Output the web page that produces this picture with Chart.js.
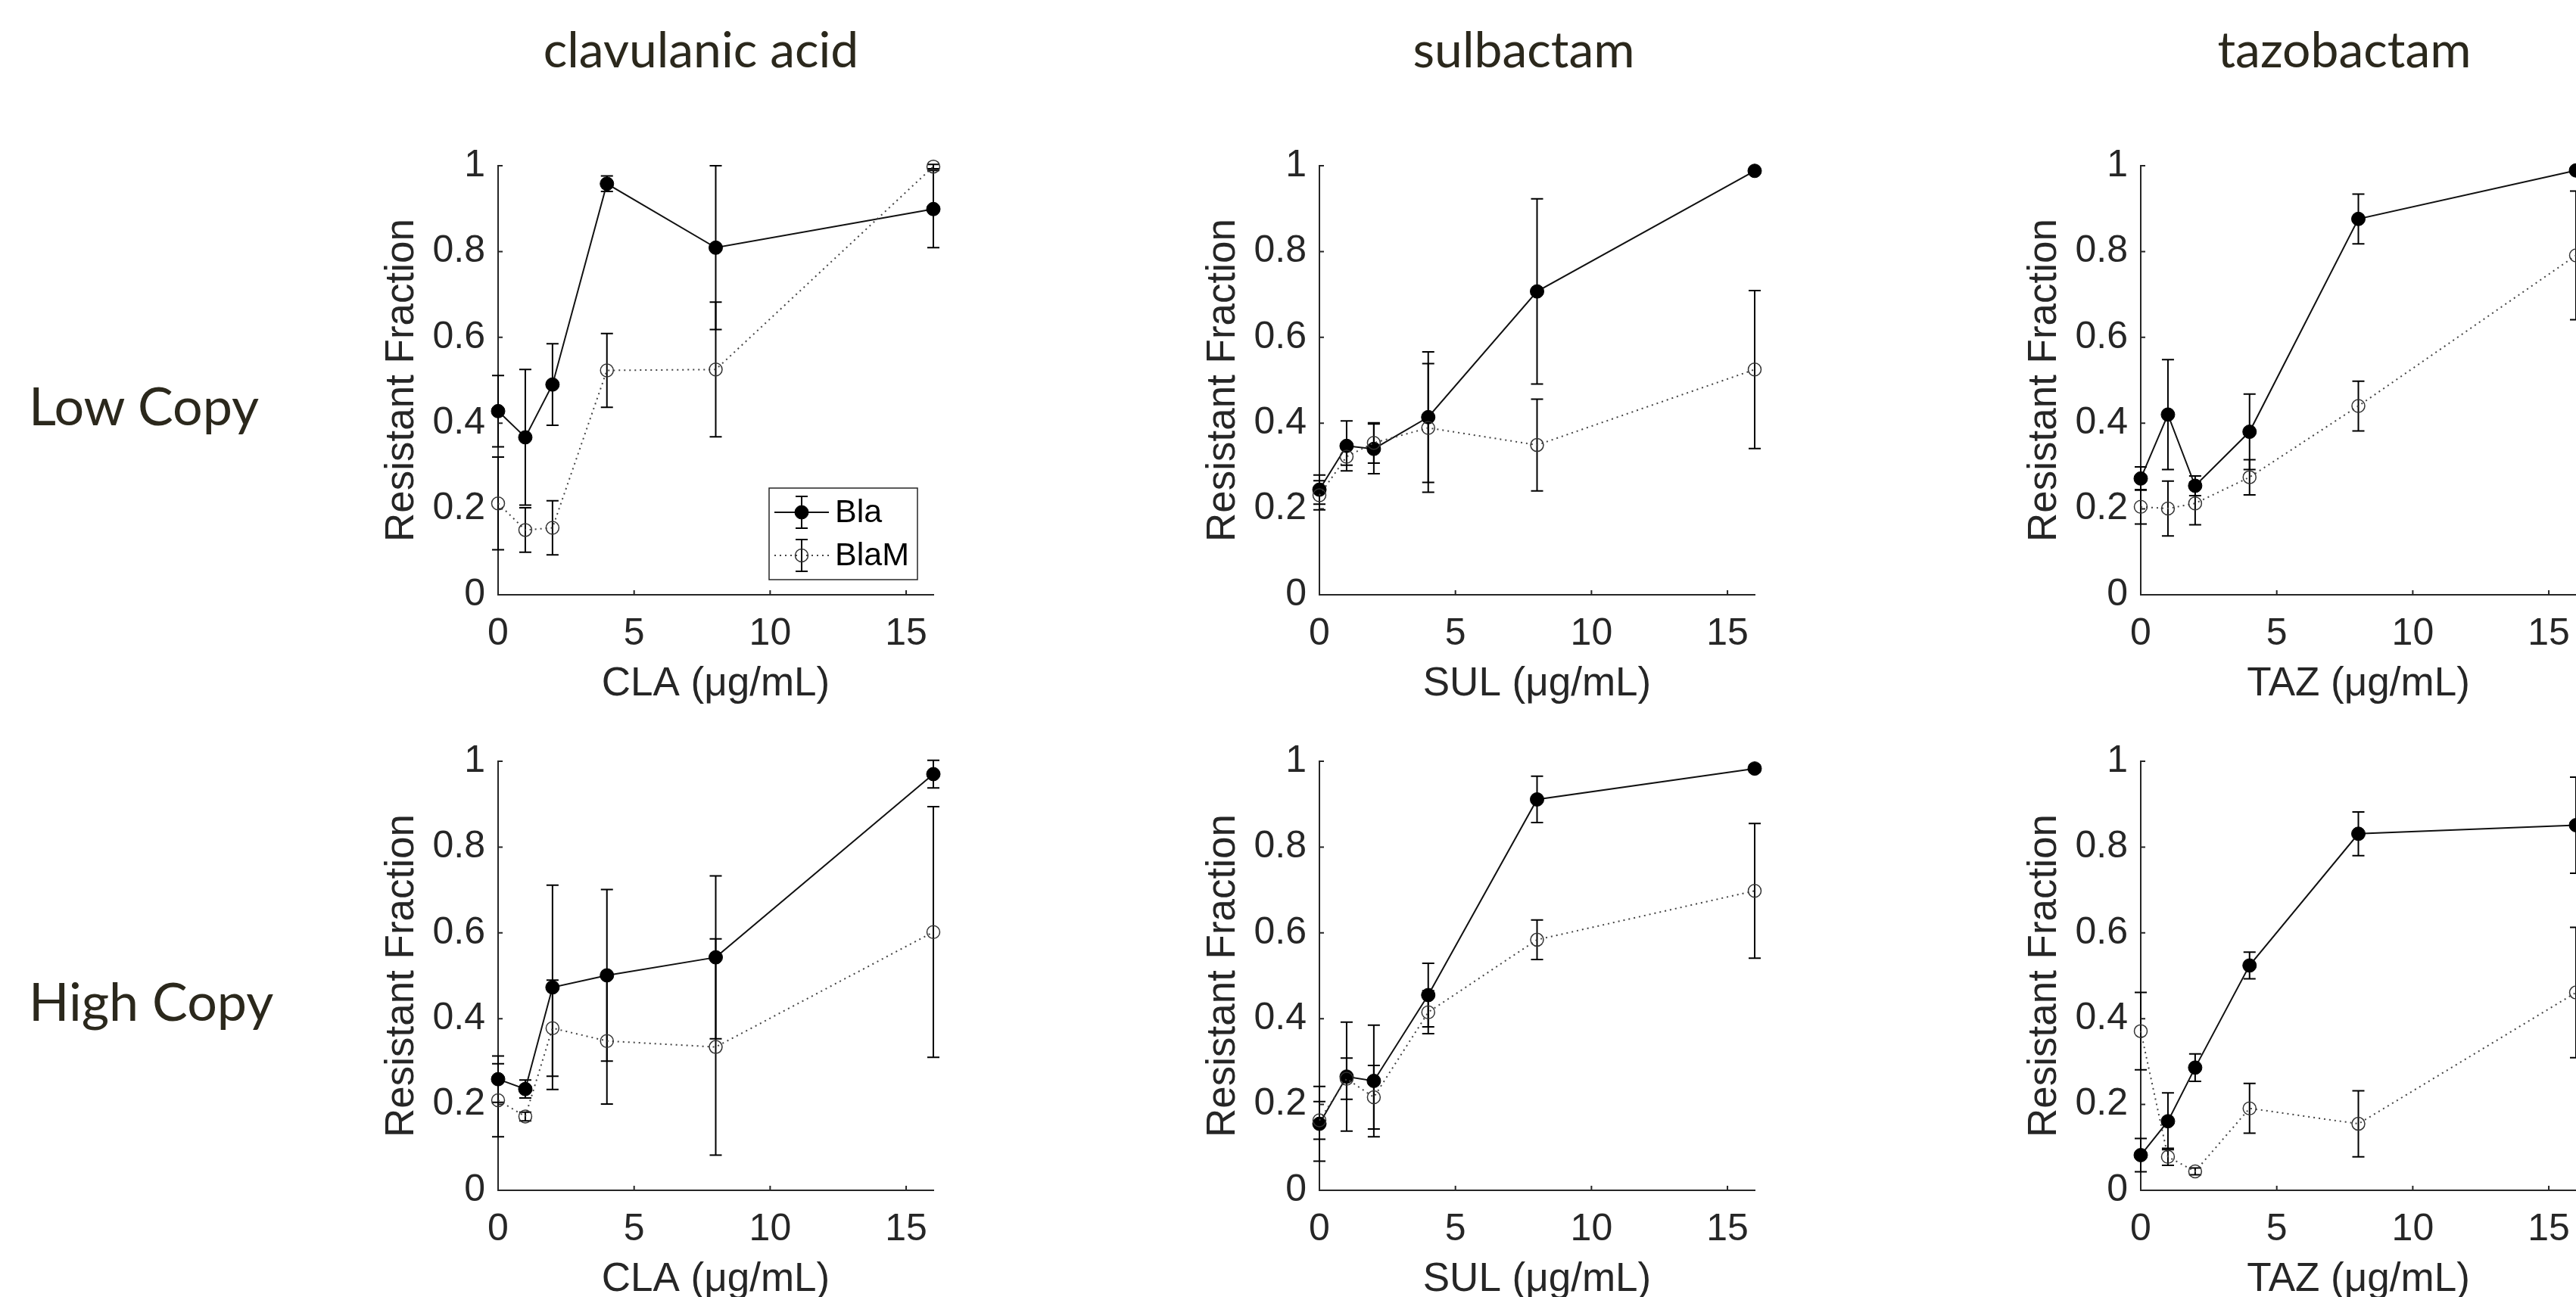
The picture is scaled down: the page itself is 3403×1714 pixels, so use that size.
<!DOCTYPE html>
<html>
<head>
<meta charset="utf-8">
<title>Resistant fraction vs inhibitor</title>
<script src="https://cdn.jsdelivr.net/npm/chart.js@4.4.1/dist/chart.umd.min.js"></script>
<style>
  html, body { margin: 0; padding: 0; background: #fff; }
  body { width: 3403px; height: 1714px; position: relative; overflow: hidden; }
  .col-title, .row-title {
    position: absolute;
    font-family: Lato, "Open Sans", sans-serif;
    color: #2b281c;
    line-height: 1;
    white-space: nowrap;
  }
  .col-title { font-size: 66px; top: 31px; transform: translateX(-50%); }
  .row-title { font-size: 70px; left: 38px; }
  canvas { position: absolute; }
</style>
</head>
<body>

<div class="col-title" style="left:926px">clavulanic acid</div>
<div class="col-title" style="left:2013px">sulbactam</div>
<div class="col-title" style="left:3097px">tazobactam</div>
<div class="row-title" style="top:500px">Low Copy</div>
<div class="row-title" style="top:1287px">High Copy</div>

<script>
// ── Data ────────────────────────────────────────────────────

const doses = [0, 1, 2, 4, 8, 16];
const xTicks = [0, 5, 10, 15];
const xTickLabels = ["0", "5", "10", "15"];
const yTicks = [0, 0.2, 0.4, 0.6, 0.8, 1];
const yTickLabels = ["0", "0.2", "0.4", "0.6", "0.8", "1"];
const seriesNames = ["Bla", "BlaM"];

// low copy
const claLowBla     = [0.428, 0.367, 0.490, 0.958, 0.809, 0.899];
const claLowBlaErr  = [0.083, 0.158, 0.095, 0.018, 0.191, 0.090];
const claLowBlaM    = [0.213, 0.151, 0.156, 0.523, 0.525, 0.998];
const claLowBlaMErr = [0.108, 0.052, 0.063, 0.086, 0.157, 0.005];

const sulLowBla     = [0.245, 0.347, 0.340, 0.414, 0.707, 0.988];
const sulLowBlaErr  = [0.034, 0.058, 0.058, 0.152, 0.216, 0.005];
const sulLowBlaM    = [0.232, 0.322, 0.354, 0.389, 0.349, 0.525];
const sulLowBlaMErr = [0.034, 0.020, 0.047, 0.150, 0.107, 0.184];

const tazLowBla     = [0.271, 0.420, 0.254, 0.380, 0.876, 0.989];
const tazLowBlaErr  = [0.027, 0.128, 0.023, 0.088, 0.058, 0.005];
const tazLowBlaM    = [0.205, 0.201, 0.213, 0.274, 0.440, 0.791];
const tazLowBlaMErr = [0.040, 0.064, 0.050, 0.041, 0.058, 0.150];

// high copy
const claHighBla     = [0.259, 0.236, 0.473, 0.501, 0.543, 0.970];
const claHighBlaErr  = [0.054, 0.021, 0.238, 0.200, 0.190, 0.032];
const claHighBlaM    = [0.210, 0.172, 0.378, 0.348, 0.334, 0.602];
const claHighBlaMErr = [0.085, 0.010, 0.112, 0.147, 0.252, 0.292];

const sulHighBla     = [0.155, 0.265, 0.255, 0.455, 0.911, 0.983];
const sulHighBlaErr  = [0.087, 0.127, 0.130, 0.074, 0.054, 0.008];
const sulHighBlaM    = [0.163, 0.260, 0.217, 0.415, 0.584, 0.698];
const sulHighBlaMErr = [0.044, 0.048, 0.074, 0.050, 0.046, 0.157];

const tazHighBla     = [0.082, 0.161, 0.286, 0.524, 0.831, 0.851];
const tazHighBlaErr  = [0.039, 0.066, 0.032, 0.031, 0.051, 0.112];
const tazHighBlaM    = [0.371, 0.078, 0.044, 0.191, 0.155, 0.461];
const tazHighBlaMErr = [0.090, 0.020, 0.008, 0.058, 0.077, 0.152];

// ── Layout ──────────────────────────────────────────────────

const AXIS_FONT = '"Liberation Sans", Arial, Helvetica, sans-serif';
const INK = "#262626";
const PLOT_W = 575;
const PLOT_H = 574;
const Y_BOX = 170;   // space left of the y axis inside each canvas
const X_BOX = 150;   // space under the x axis
const PAD_TOP = 40;
const PAD_RIGHT = 40;

const panels = [
  { left: 658,  top: 212, xLabel: "CLA (μg/mL)", bla: claLowBla,  blaErr: claLowBlaErr,  blaM: claLowBlaM,  blaMErr: claLowBlaMErr, legend: true },
  { left: 1743, top: 212, xLabel: "SUL (μg/mL)", bla: sulLowBla,  blaErr: sulLowBlaErr,  blaM: sulLowBlaM,  blaMErr: sulLowBlaMErr },
  { left: 2828, top: 212, xLabel: "TAZ (μg/mL)", bla: tazLowBla,  blaErr: tazLowBlaErr,  blaM: tazLowBlaM,  blaMErr: tazLowBlaMErr },
  { left: 658,  top: 999, xLabel: "CLA (μg/mL)", bla: claHighBla, blaErr: claHighBlaErr, blaM: claHighBlaM, blaMErr: claHighBlaMErr },
  { left: 1743, top: 999, xLabel: "SUL (μg/mL)", bla: sulHighBla, blaErr: sulHighBlaErr, blaM: sulHighBlaM, blaMErr: sulHighBlaMErr },
  { left: 2828, top: 999, xLabel: "TAZ (μg/mL)", bla: tazHighBla, blaErr: tazHighBlaErr, blaM: tazHighBlaM, blaMErr: tazHighBlaMErr },
];

// ── Plugins ─────────────────────────────────────────────────

function drawErrBar(ctx, px, yTop, yBot, cap) {
  ctx.beginPath();
  ctx.moveTo(px, yTop); ctx.lineTo(px, yBot);
  ctx.moveTo(px - cap, yTop); ctx.lineTo(px + cap, yTop);
  ctx.moveTo(px - cap, yBot); ctx.lineTo(px + cap, yBot);
  ctx.stroke();
}

const errorBars = {
  id: "errorBars",
  beforeDatasetsDraw(chart) {
    const { ctx, scales: { x, y } } = chart;
    ctx.save();
    ctx.strokeStyle = "#000";
    ctx.lineWidth = 2;
    chart.data.datasets.forEach(ds => {
      if (!ds.errors) return;
      ds.data.forEach((p, j) => {
        const e = ds.errors[j];
        drawErrBar(ctx, x.getPixelForValue(p.x), y.getPixelForValue(p.y + e), y.getPixelForValue(p.y - e), 8);
      });
    });
    ctx.restore();
  },
};

// matlab style ticks pointing into the plot
const inwardTicks = {
  id: "inwardTicks",
  afterDraw(chart) {
    const { ctx, chartArea: ca, scales: { x, y } } = chart;
    ctx.save();
    ctx.strokeStyle = INK;
    ctx.lineWidth = 2;
    ctx.beginPath();
    x.ticks.forEach(t => {
      const px = x.getPixelForValue(t.value);
      ctx.moveTo(px, ca.bottom); ctx.lineTo(px, ca.bottom - 6);
    });
    y.ticks.forEach(t => {
      const py = y.getPixelForValue(t.value);
      ctx.moveTo(ca.left, py); ctx.lineTo(ca.left + 6, py);
    });
    ctx.stroke();
    ctx.restore();
  },
};

const boxLegend = {
  id: "boxLegend",
  afterDraw(chart, args, opts) {
    if (!opts.show) return;
    const { ctx, chartArea: ca } = chart;
    const w = 196, h = 121;
    const left = ca.right - 21 - w;
    const top = ca.bottom - 20 - h;
    ctx.save();
    ctx.fillStyle = "#fff";
    ctx.fillRect(left, top, w, h);
    ctx.strokeStyle = INK;
    ctx.lineWidth = 1.5;
    ctx.strokeRect(left, top, w, h);

    const rows = [top + 32, top + 89];
    chart.data.datasets.forEach((ds, i) => {
      const ry = rows[i];
      const mx = left + 43;
      ctx.strokeStyle = ds.borderColor;
      ctx.lineWidth = ds.borderWidth;
      ctx.setLineDash(ds.borderDash || []);
      ctx.beginPath();
      ctx.moveTo(left + 7, ry); ctx.lineTo(left + 79, ry);
      ctx.stroke();
      ctx.setLineDash([]);
      ctx.strokeStyle = "#000";
      ctx.lineWidth = 2;
      drawErrBar(ctx, mx, ry - 21, ry + 21, 8);
      ctx.beginPath();
      ctx.arc(mx, ry, ds.pointRadius, 0, Math.PI * 2);
      if (ds.pointBackgroundColor !== "transparent") {
        ctx.fillStyle = ds.pointBackgroundColor;
        ctx.fill();
      }
      ctx.strokeStyle = ds.pointBorderColor;
      ctx.lineWidth = ds.pointBorderWidth;
      ctx.stroke();
      ctx.fillStyle = "#000";
      ctx.font = `43px ${AXIS_FONT}`;
      ctx.textBaseline = "middle";
      ctx.fillText(ds.label, left + 87, ry + 1);
    });
    ctx.restore();
  },
};

// ── Charts ──────────────────────────────────────────────────

function points(values) {
  return doses.map((d, i) => ({ x: d, y: values[i] }));
}

function makePanel(p) {
  const canvas = document.createElement("canvas");
  const w = Y_BOX + PLOT_W + PAD_RIGHT;
  const h = PAD_TOP + PLOT_H + X_BOX;
  canvas.width = w;
  canvas.height = h;
  canvas.style.width = w + "px";
  canvas.style.height = h + "px";
  canvas.style.left = (p.left - Y_BOX) + "px";
  canvas.style.top = (p.top - PAD_TOP) + "px";
  document.body.appendChild(canvas);

  new Chart(canvas, {
    type: "scatter",
    data: {
      datasets: [
        {
          label: seriesNames[0],
          data: points(p.bla),
          errors: p.blaErr,
          showLine: true,
          borderColor: "#111",
          borderWidth: 2,
          pointRadius: 9,
          pointBackgroundColor: "#000",
          pointBorderColor: "#000",
          pointBorderWidth: 1,
          clip: false,
          order: 1,
        },
        {
          label: seriesNames[1],
          data: points(p.blaM),
          errors: p.blaMErr,
          showLine: true,
          borderColor: "#444",
          borderWidth: 2,
          borderDash: [2, 5],
          pointRadius: 8.5,
          pointBackgroundColor: "transparent",
          pointBorderColor: "#333",
          pointBorderWidth: 1.5,
          clip: false,
          order: 0,
        },
      ],
    },
    options: {
      responsive: false,
      animation: false,
      devicePixelRatio: 1,
      events: [],
      layout: { padding: { top: PAD_TOP, right: PAD_RIGHT, left: 0, bottom: 0 } },
      plugins: {
        legend: { display: false },
        tooltip: { enabled: false },
        boxLegend: { show: !!p.legend },
      },
      scales: {
        x: {
          type: "linear",
          min: 0,
          max: 16,
          afterBuildTicks: s => { s.ticks = xTicks.map(v => ({ value: v })); },
          afterFit: s => { s.height = X_BOX; },
          grid: { display: false, drawTicks: false },
          border: { display: true, color: INK, width: 2 },
          ticks: {
            callback: (v, i) => xTickLabels[i],
            font: { family: AXIS_FONT, size: 50 },
            color: INK,
            padding: 22,
            maxRotation: 0,
            autoSkip: false,
          },
          title: {
            display: true,
            text: p.xLabel,
            font: { family: AXIS_FONT, size: 53 },
            color: INK,
            padding: { top: 0, bottom: 0 },
          },
        },
        y: {
          type: "linear",
          min: 0,
          max: 1,
          afterBuildTicks: s => { s.ticks = yTicks.map(v => ({ value: v })); },
          afterFit: s => { s.width = Y_BOX; },
          grid: { display: false, drawTicks: false },
          border: { display: true, color: INK, width: 2 },
          ticks: {
            callback: (v, i) => yTickLabels[i],
            font: { family: AXIS_FONT, size: 50 },
            color: INK,
            padding: 17,
            autoSkip: false,
          },
          title: {
            display: true,
            text: "Resistant Fraction",
            font: { family: AXIS_FONT, size: 53 },
            color: INK,
            padding: { top: 12, bottom: 0 },
          },
        },
      },
    },
    plugins: [errorBars, inwardTicks, boxLegend],
  });
}

panels.forEach(makePanel);
</script>
</body>
</html>
